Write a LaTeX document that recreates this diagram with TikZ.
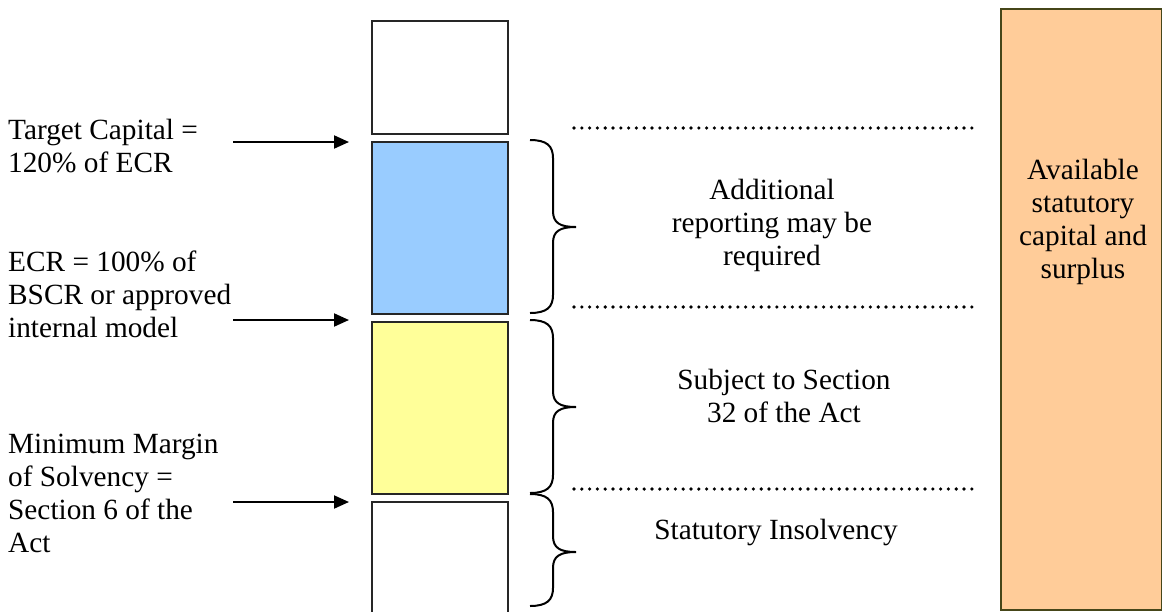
\documentclass[tikz,border=0pt]{standalone}
\usepackage{fontspec}
\setmainfont{Liberation Serif}
\usetikzlibrary{arrows.meta}
\definecolor{lvlblue}{HTML}{99CCFF}
\definecolor{lvlyellow}{HTML}{FFFF99}
\definecolor{capfill}{HTML}{FFCC99}
\definecolor{capedge}{RGB}{70,70,25}
\newcommand\WBrace[3]{%
  \draw[brc] (530,#1) .. controls (547,#1) and (553,#1+6) .. (553,#1+18)
    -- (553,#2-16) .. controls (553,#2-4) and (560,#2) .. (576,#2)
    .. controls (560,#2) and (553,#2+4) .. (553,#2+16)
    -- (553,#3-18) .. controls (553,#3-6) and (547,#3) .. (530,#3);}
\begin{document}
\begin{tikzpicture}[x=1pt,y=-1pt,
  lvl/.style={draw=black!85, line width=2pt, inner sep=0pt, minimum width=136pt, anchor=north west},
  lbl/.style={font=\fontsize{29.3}{33}\selectfont, inner sep=0pt},
  brc/.style={line width=2pt, black},
  dotline/.style={line width=3.6pt, dash pattern=on 0pt off 7.8pt, line cap=round},
  arr/.style={line width=2pt, -{Triangle[length=15pt,width=13pt]}}]
\useasboundingbox (0,0) rectangle (1162,611);
% level column
\node[lvl, minimum height=113pt] (b1) at (371,20) {};
\node[lvl, fill=lvlblue, minimum height=172pt] (b2) at (371,141) {};
\node[lvl, fill=lvlyellow, minimum height=172pt] (b3) at (371,321) {};
\node[lvl, minimum height=125pt] (b4) at (371,501) {};
% right capital box
\node[draw=capedge, line width=2pt, fill=capfill, minimum width=161pt, minimum height=601pt, anchor=north west, inner sep=0pt] (cap) at (1000,8) {};
\node[lbl, align=center] (captxt) at (1083,222) {Available\\statutory\\capital and\\surplus};
% braces
\WBrace{140}{227}{313}
\WBrace{320}{407}{493}
\WBrace{494}{552}{606}
% dotted lines
\coordinate (d1a) at (574,128); \coordinate (d1b) at (978,128);
\coordinate (d2a) at (574,307); \coordinate (d2b) at (978,307);
\coordinate (d3a) at (574,489); \coordinate (d3b) at (978,489);
\draw[dotline] (d1a) -- (d1b);
\draw[dotline] (d2a) -- (d2b);
\draw[dotline] (d3a) -- (d3b);
% middle labels
\node[lbl, align=center] (add) at (772,225) {Additional\\reporting may be\\required};
\node[lbl, align=center] (sub) at (784,396) {Subject to Section\\32 of the Act};
\node[lbl] (ins) at (776,532) {Statutory Insolvency};
% left labels
\node[lbl, align=left, anchor=west] (tc) at (8,146) {Target Capital =\\120\% of ECR};
\node[lbl, align=left, anchor=west] (ecr) at (8,294) {ECR = 100\% of\\BSCR or approved\\internal model};
\node[lbl, align=left, anchor=west] (mms) at (8,493) {Minimum Margin\\of Solvency =\\Section 6 of the\\Act};
% arrows
\coordinate (a1s) at (233,142); \coordinate (a1e) at (349,142);
\coordinate (a2s) at (233,320); \coordinate (a2e) at (349,320);
\coordinate (a3s) at (233,502); \coordinate (a3e) at (349,502);
\draw[arr] (a1s) -- (a1e);
\draw[arr] (a2s) -- (a2e);
\draw[arr] (a3s) -- (a3e);
\end{tikzpicture}
\end{document}
